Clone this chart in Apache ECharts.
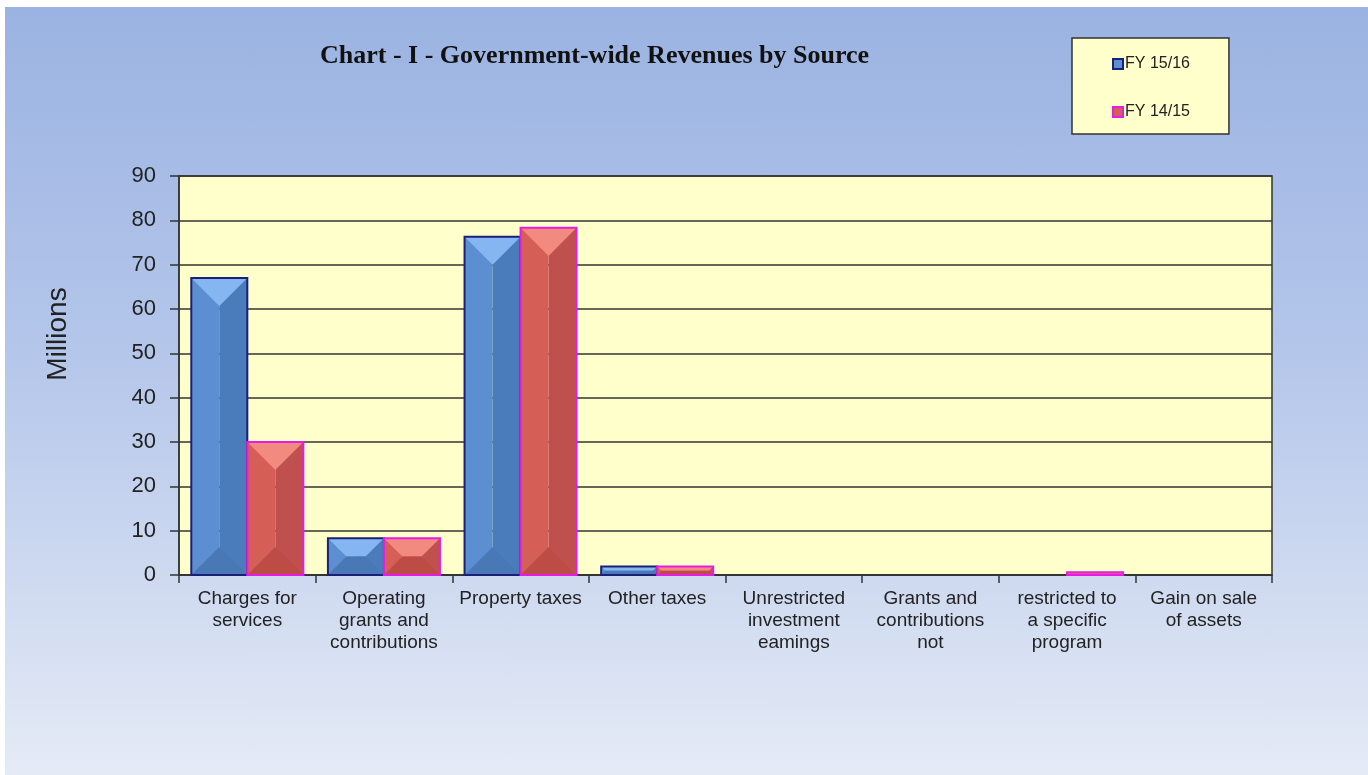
<!DOCTYPE html>
<html>
<head>
<meta charset="utf-8">
<script src="https://cdn.jsdelivr.net/npm/echarts@6/dist/echarts.min.js"></script>
<style>
  html, body { margin: 0; padding: 0; background: #ffffff; }
  #chart {
    position: absolute; left: 5px; top: 7px; width: 1363px; height: 768px;
    background: linear-gradient(to bottom, #9bb3e2 0%, #b4c6ea 45%, #e5ebf6 100%);
  }
</style>
</head>
<body>
<div id="chart"></div>
<script>
  const categories = [
    "Charges for\nservices",
    "Operating\ngrants and\ncontributions",
    "Property taxes",
    "Other taxes",
    "Unrestricted\ninvestment\neamings",
    "Grants and\ncontributions\nnot",
    "restricted to\na specific\nprogram",
    "Gain on sale\nof assets"
  ];
  const fy1516 = [67.0, 8.3, 76.3, 1.9, 0, 0, 0, 0];
  const fy1415 = [30.0, 8.3, 78.3, 1.9, 0, 0, 0.6, 0];
  const yTicks = [0, 10, 20, 30, 40, 50, 60, 70, 80, 90];

  const palettes = [
    { left: "#5b8fd1", right: "#4a7bba", top: "#86b6f2", bottom: "#4878b6", border: "#1c1f7a" },
    { left: "#d55f57", right: "#c0504d", top: "#f28a80", bottom: "#bd4c47", border: "#e61ce6" }
  ];

  // bevelled bar drawn from value/category coords
  function bevelBar(idx) {
    return function (params, api) {
      const cat = api.value(0);
      const val = api.value(1);
      if (!val) return null;
      const band = api.size([1, 0])[0];
      const w = band * 0.41;
      const base = api.coord([cat, 0]);
      const topPt = api.coord([cat, val]);
      const x0 = base[0] - w + idx * w;
      const x1 = x0 + w;
      const y0 = topPt[1];
      const y1 = base[1];
      const h = y1 - y0;
      const p = palettes[idx];
      const d = Math.min(w / 2, h / 2);
      const xm = (x0 + x1) / 2;
      return {
        type: "group",
        children: [
          { type: "rect", shape: { x: x0, y: y0, width: w / 2, height: h }, style: { fill: p.left } },
          { type: "rect", shape: { x: xm, y: y0, width: w / 2, height: h }, style: { fill: p.right } },
          { type: "polygon", shape: { points: [[x0, y0], [x1, y0], [x1 - d, y0 + d], [x0 + d, y0 + d]] }, style: { fill: p.top } },
          { type: "polygon", shape: { points: [[x0, y1], [x0 + d, y1 - d], [x1 - d, y1 - d], [x1, y1]] }, style: { fill: p.bottom } },
          { type: "rect", shape: { x: x0, y: y0, width: w, height: h }, style: { fill: null, stroke: p.border, lineWidth: 2 } }
        ]
      };
    };
  }

  const chart = echarts.init(document.getElementById("chart"));
  chart.setOption({
    animation: false,
    title: {
      text: "Chart - I - Government-wide Revenues by Source",
      left: 310,
      top: 31,
      textStyle: { fontFamily: "Liberation Serif", fontWeight: "bold", fontSize: 26, color: "#111" }
    },
    graphic: [
      {
        type: "text", x: 53, y: 327, rotation: Math.PI / 2,
        style: {
          text: "Millions", fontFamily: "Liberation Sans", fontSize: 28, fill: "#222",
          align: "center", verticalAlign: "middle"
        }
      }
    ],
    legend: {
      orient: "vertical",
      left: 1067,
      top: 31,
      padding: [18, 39, 14, 40],
      itemGap: 32,
      itemWidth: 10,
      itemHeight: 10,
      icon: "rect",
      backgroundColor: "#ffffcc",
      borderColor: "#333",
      borderWidth: 1.5,
      textStyle: { fontFamily: "Liberation Sans", fontSize: 16, color: "#222", padding: [0, 0, 0, -3] },
      data: [
        { name: "FY 15/16", itemStyle: { color: "#5b8fd1", borderColor: "#1c1f7a", borderWidth: 2 } },
        { name: "FY 14/15", itemStyle: { color: "#d55f57", borderColor: "#e61ce6", borderWidth: 2 } }
      ]
    },
    grid: {
      left: 174, top: 169, right: 96, bottom: 200,
      show: true, backgroundColor: "#ffffcc", borderColor: "#333", borderWidth: 1.5
    },
    xAxis: {
      type: "category",
      data: categories,
      axisLine: { lineStyle: { color: "#333", width: 1.5 } },
      axisTick: { show: true, length: 8, lineStyle: { color: "#333", width: 1.5 } },
      axisLabel: {
        interval: 0, margin: 13, fontFamily: "Liberation Sans", fontSize: 19,
        lineHeight: 22, color: "#222"
      }
    },
    yAxis: {
      type: "value",
      min: yTicks[0],
      max: yTicks[yTicks.length - 1],
      interval: 10,
      axisLine: { show: true, lineStyle: { color: "#333", width: 1.5 } },
      axisTick: { show: true, length: 9, lineStyle: { color: "#333", width: 1.5 } },
      axisLabel: { margin: 23, fontFamily: "Liberation Sans", fontSize: 22, color: "#222" },
      splitLine: { lineStyle: { color: "#333", width: 1.5 } }
    },
    series: [
      {
        name: "FY 15/16", type: "custom", renderItem: bevelBar(0),
        itemStyle: { color: "#5b8fd1" },
        encode: { x: 0, y: 1 },
        data: fy1516.map((v, i) => [i, v])
      },
      {
        name: "FY 14/15", type: "custom", renderItem: bevelBar(1),
        itemStyle: { color: "#d55f57" },
        encode: { x: 0, y: 1 },
        data: fy1415.map((v, i) => [i, v])
      }
    ]
  });
</script>
</body>
</html>
